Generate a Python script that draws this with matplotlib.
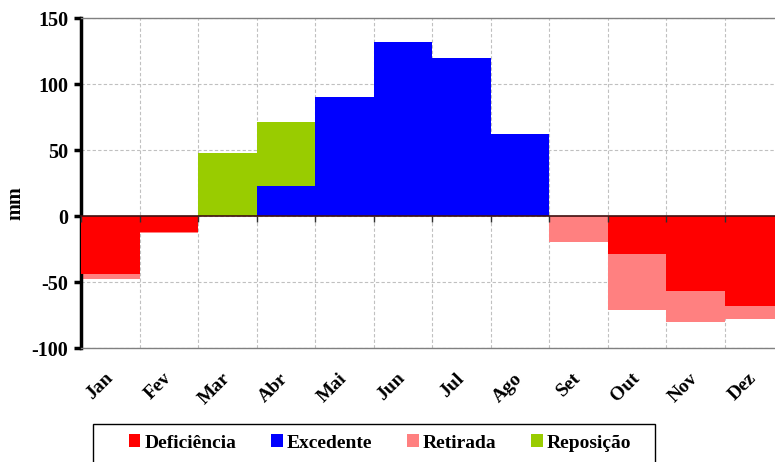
import numpy as np
import matplotlib.pyplot as plt
from matplotlib.patches import Rectangle

# balanco hidrico mensal (mm)
meses = ['Jan', 'Fev', 'Mar', 'Abr', 'Mai', 'Jun', 'Jul', 'Ago', 'Set', 'Out', 'Nov', 'Dez']
deficiencia = [-44, -12, 0, 0, 0, 0, 0, 0, 0, -29, -57, -68]
excedente = [0, 0, 0, 23, 90, 132, 120, 62, 0, 0, 0, 0]
retirada = [-48, -13, 0, 0, 0, 0, 0, 0, -20, -71, -80, -78]
reposicao = [0, 0, 48, 71.5, 0, 0, 0, 0, 0, 0, 0, 0]

plt.rcParams['font.family'] = 'Liberation Serif'
plt.rcParams['font.weight'] = 'bold'
plt.rcParams['axes.unicode_minus'] = False

fig = plt.figure(figsize=(7.75, 4.62), dpi=100)
ax = fig.add_axes([81/775, 114/462, 702/775, 330/462])

x = np.arange(len(meses))
# camadas sobrepostas, a de tras primeiro
ax.bar(x, reposicao, width=1, align='edge', color='#99CC00', label='Reposição', zorder=2)
ax.bar(x, excedente, width=1, align='edge', color='#0000FF', label='Excedente', zorder=3)
ax.bar(x, retirada, width=1, align='edge', color='#FF8080', label='Retirada', zorder=2)
ax.bar(x, deficiencia, width=1, align='edge', color='#FF0000', label='Deficiência', zorder=3)

ax.set_xlim(0, 12)
ax.set_ylim(-100, 150)
ax.set_yticks([-100, -50, 0, 50, 100, 150])
ax.tick_params(axis='y', labelsize=14.5, length=5, width=2.5, direction='out', pad=4)
fig.text(15/775, 1 - 203/462, 'mm', rotation=90, ha='center', va='center', fontsize=14.5, fontweight='bold')

# rotulos no centro do mes, grade nos limites
ax.set_xticks(x + 0.5)
ax.set_xticklabels(meses, rotation=45, ha='right', va='center', rotation_mode='anchor', fontsize=14)
ax.tick_params(axis='x', length=0, pad=20)
ax.set_xticks(np.arange(0, 13), minor=True)
ax.tick_params(axis='x', which='minor', length=0)
ax.grid(True, which='minor', axis='x', color='#c0c0c0', linestyle=(0, (3, 2)), linewidth=0.8, zorder=0)
ax.grid(True, which='major', axis='y', color='#c0c0c0', linestyle=(0, (3, 2)), linewidth=0.8, zorder=0)
ax.set_axisbelow(True)

ax.spines['left'].set_linewidth(2.5)
for s in ['top', 'bottom', 'right']:
    ax.spines[s].set_color('#808080')
    ax.spines[s].set_linewidth(1)

# eixo no zero com marcas nos limites dos meses
sec = ax.secondary_xaxis(0.4)
sec.set_xticks(np.arange(0, 13))
sec.set_xticklabels([])
sec.tick_params(length=4, width=1, color='#303030', direction='out')
sec.spines['bottom'].set_color('#401010')
sec.spines['bottom'].set_linewidth(1.2)
sec.set_zorder(5)

handles, labels = ax.get_legend_handles_labels()
ordem = [3, 1, 2, 0]
leg = fig.legend([handles[i] for i in ordem], [labels[i] for i in ordem],
                 loc='center', bbox_to_anchor=(380/775, 1 - 443/462), ncol=4,
                 fontsize=14, frameon=False,
                 handlelength=0.6, handleheight=0.6, handletextpad=0.2, columnspacing=1.8)
# moldura da legenda
fig.patches.append(Rectangle((93/775, -0.02), 562/775, 0.02 + 1 - 424/462,
                             transform=fig.transFigure, fill=False, edgecolor='black', linewidth=1))

fig.savefig('out.png', dpi=100)
